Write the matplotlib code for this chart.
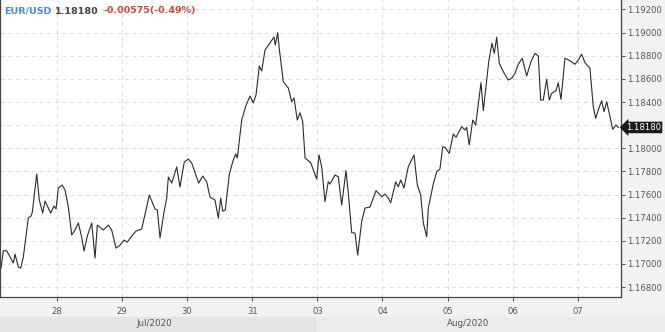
import matplotlib
matplotlib.use("Agg")
import matplotlib.pyplot as plt
from matplotlib.patches import Rectangle
import matplotlib.transforms as mtransforms

# EUR/USD, 27 Jul - 7 Aug 2020 (weekend removed)
# t_day: trading days counted from 28 Jul (0 = 28, 4 = 03 Aug, ...)
t_day = [-0.860, -0.825, -0.773, -0.671, -0.645, -0.594, -0.558, -0.518, -0.441, -0.399,
         -0.379, -0.312, -0.272, -0.220, -0.184, -0.097, -0.046, -0.015, 0.020, 0.077,
         0.123, 0.174, 0.226, 0.276, 0.327, 0.379, 0.415, 0.465, 0.533, 0.584,
         0.619, 0.711, 0.788, 0.840, 0.906, 0.968, 1.029, 1.080, 1.147, 1.214,
         1.301, 1.418, 1.505, 1.541, 1.582, 1.644, 1.685, 1.710, 1.762, 1.839,
         1.889, 1.955, 2.017, 2.069, 2.177, 2.238, 2.300, 2.350, 2.427, 2.478,
         2.515, 2.545, 2.585, 2.647, 2.708, 2.745, 2.770, 2.837, 2.899, 2.965,
         3.015, 3.057, 3.108, 3.145, 3.195, 3.261, 3.333, 3.353, 3.390, 3.415,
         3.476, 3.553, 3.605, 3.641, 3.691, 3.733, 3.774, 3.810, 3.897, 3.989,
         4.025, 4.066, 4.117, 4.167, 4.194, 4.270, 4.321, 4.373, 4.439, 4.475,
         4.527, 4.578, 4.619, 4.680, 4.731, 4.808, 4.900, 4.988, 5.038, 5.089,
         5.126, 5.203, 5.243, 5.280, 5.330, 5.396, 5.484, 5.535, 5.587, 5.627,
         5.679, 5.704, 5.780, 5.833, 5.883, 5.925, 5.960, 6.026, 6.088, 6.129,
         6.217, 6.267, 6.293, 6.333, 6.386, 6.432, 6.513, 6.549, 6.632, 6.682,
         6.717, 6.754, 6.794, 6.856, 6.932, 6.985, 7.035, 7.086, 7.147, 7.215,
         7.281, 7.343, 7.393, 7.430, 7.470, 7.522, 7.562, 7.599, 7.665, 7.700,
         7.742, 7.803, 7.880, 7.957, 8.008, 8.060, 8.111, 8.187, 8.238, 8.275,
         8.315, 8.367, 8.403, 8.444, 8.495, 8.536, 8.587, 8.622]

price = [1.16964, 1.17114, 1.17114, 1.17008, 1.17085, 1.16973, 1.16964, 1.17059, 1.17397, 1.17414,
         1.17449, 1.17777, 1.17552, 1.17440, 1.17544, 1.17440, 1.17501, 1.17475, 1.17656, 1.17682,
         1.17639, 1.17492, 1.17250, 1.17293, 1.17354, 1.17232, 1.17111, 1.17241, 1.17354, 1.17051,
         1.17336, 1.17293, 1.17336, 1.17293, 1.17137, 1.17163, 1.17206, 1.17189, 1.17241, 1.17284,
         1.17302, 1.17596, 1.17475, 1.17466, 1.17224, 1.17449, 1.17570, 1.17751, 1.17699, 1.17838,
         1.17665, 1.17881, 1.17907, 1.17872, 1.17699, 1.17760, 1.17708, 1.17578, 1.17552, 1.17397,
         1.17570, 1.17457, 1.17466, 1.17777, 1.17898, 1.17950, 1.17916, 1.18244, 1.18365, 1.18452,
         1.18391, 1.18461, 1.18711, 1.18668, 1.18850, 1.18902, 1.18962, 1.18893, 1.18999, 1.18858,
         1.18576, 1.18521, 1.18403, 1.18435, 1.18244, 1.18307, 1.18230, 1.17916, 1.17875, 1.17734,
         1.17942, 1.17840, 1.17538, 1.17711, 1.17691, 1.17769, 1.17754, 1.17509, 1.17806, 1.17613,
         1.17270, 1.17267, 1.17077, 1.17365, 1.17483, 1.17492, 1.17633, 1.17581, 1.17604, 1.17570,
         1.17529, 1.17708, 1.17667, 1.17725, 1.17656, 1.17840, 1.17942, 1.17682, 1.17596, 1.17354,
         1.17235, 1.17483, 1.17691, 1.17797, 1.17821, 1.18013, 1.18008, 1.17956, 1.18123, 1.18095,
         1.18186, 1.18158, 1.18181, 1.18028, 1.18244, 1.18201, 1.18567, 1.18325, 1.18749, 1.18908,
         1.18821, 1.18960, 1.18735, 1.18662, 1.18590, 1.18605, 1.18648, 1.18726, 1.18778, 1.18625,
         1.18749, 1.18821, 1.18798, 1.18417, 1.18417, 1.18596, 1.18417, 1.18475, 1.18498, 1.18567,
         1.18423, 1.18778, 1.18757, 1.18726, 1.18763, 1.18813, 1.18740, 1.18691, 1.18359, 1.18259,
         1.18331, 1.18411, 1.18316, 1.18403, 1.18273, 1.18164, 1.18201, 1.18180]

day_labels = ["28", "29", "30", "31", "03", "04", "05", "06", "07"]
day_pos = [0, 1, 2, 3, 4, 5, 6, 7, 8]
month_labels = ["Jul/2020", "Aug/2020"]
month_edges = [-0.876, 4.0, 9.34]
month_label_pos = [1.5, 6.31]
y_ticks = [1.168, 1.170, 1.172, 1.174, 1.176, 1.178, 1.180,
           1.182, 1.184, 1.186, 1.188, 1.190, 1.192]

symbol = "EUR/USD"
change = -0.00575
change_pct = -0.49

fig = plt.figure(figsize=(6.65, 3.32), dpi=100, facecolor="#f2f2f2")
ax = fig.add_axes([0.0, 1 - 297 / 332, 621 / 665, 297 / 332])
ax.set_facecolor("white")

ax.plot(t_day, price, color="#2b2b2b", lw=0.8)

ax.set_xlim(-0.876, 8.664)
ax.set_ylim(1.16714, 1.19282)

ax.set_xticks(day_pos)
ax.set_xticklabels(day_labels)
ax.set_yticks(y_ticks)
ax.set_yticklabels([f"{v:.5f}" for v in y_ticks])
ax.yaxis.tick_right()
ax.tick_params(axis="both", length=3, width=0.7, color="#555555",
               labelsize=6.1, labelcolor="#555555", pad=1.5)
ax.tick_params(axis="x", pad=4)
ax.grid(True, color="#dcdcdc", lw=0.7, ls=(0, (4, 4)))

for side in ["left", "right", "bottom"]:
    ax.spines[side].set_color("#444444")
    ax.spines[side].set_linewidth(0.9)
ax.spines["top"].set_visible(False)

# month band under the x axis
trans = mtransforms.blended_transform_factory(ax.transData, fig.transFigure)
band_colors = ["#e4e4e4", "#ececec"]
for i in range(2):
    fig.patches.append(Rectangle((month_edges[i], 0), month_edges[i + 1] - month_edges[i],
                                 15 / 332, transform=trans, color=band_colors[i], zorder=0))
    fig.text(month_label_pos[i], 8 / 332, month_labels[i], transform=trans,
             ha="center", va="center", fontsize=6.3, color="#555555")

# last price tag
ax.annotate(f"{price[-1]:.5f}", xy=(1, price[-1]), xycoords=("axes fraction", "data"),
            xytext=(3.5, 0), textcoords="offset points", ha="left", va="center",
            fontsize=6.1, color="white", annotation_clip=False,
            bbox=dict(boxstyle="larrow,pad=0.15", fc="#1c1c1c", ec="none"))

# header
fig.canvas.draw()
r = fig.canvas.get_renderer()
parts = [(symbol, "#4a86e8"), (f"{price[-1]:.5f}", "#444444"),
         (f"{change:.5f}({change_pct:.2f}%)", "#e0442a")]
x = 4
for txt, col in parts:
    t = fig.text(x / 665, 1 - 11 / 332, txt, ha="left", va="center",
                 fontsize=6.8, fontweight="bold", color=col)
    x = t.get_window_extent(r).x1 + 4

fig.savefig("out.png", dpi=100, facecolor=fig.get_facecolor())
